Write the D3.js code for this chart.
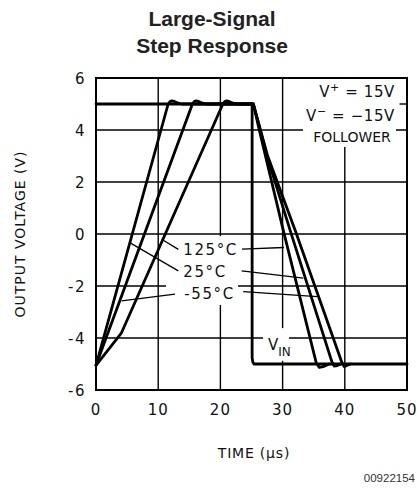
<!DOCTYPE html>
<html><head><meta charset="utf-8">
<script src="https://cdn.jsdelivr.net/npm/d3@7"></script>
<style>body{margin:0;background:#fff}</style>
</head><body>
<svg id="c" width="417" height="489"></svg>
<script>
// ---- data ----
const xTicks = [0, 10, 20, 30, 40, 50];
const yTicks = [-6, -4, -2, 0, 2, 4, 6];
const yTickLabels = ["-6", "-4", "-2", "0", "2", "4", "6"];
const vin = [[0,5],[25.1,5],[25.1,-4.75],[25.2,-4.92],[25.4,-5],[50,-5]];
const curve25 = [[0,-5.05],[11.6,5.0],[11.9,5.09],[12.2,5.12],[12.6,5.1],[13.1,5.04],[13.8,5.0],[25.3,5.0],[27.5,3.0],[31.2,0.15],[37.9,-4.9],[38.3,-5.08],[38.8,-5.06],[39.3,-5.0]];
const curve125 = [[0,-5.05],[4.1,-3.8],[20.4,5.0],[20.7,5.09],[21.0,5.12],[21.4,5.1],[21.9,5.04],[22.6,5.0],[25.3,5.0],[26.2,4.05],[30.1,0.15],[35.4,-4.95],[35.9,-5.13],[36.5,-5.1],[37.5,-5.0]];
const curveM55 = [[0,-5.05],[15.5,5.0],[15.8,5.09],[16.1,5.12],[16.5,5.1],[17.0,5.04],[17.7,5.0],[25.3,5.0],[27.6,3.0],[32.0,0.15],[39.5,-4.92],[39.9,-5.1],[40.4,-5.05],[40.9,-5.0]];
const tempLabels = [
  {text:"125°C", t:14.04, v:-0.79, left:[[13.23,-0.59],[10.56,-0.20]], right:[[23.47,-0.58],[30.23,-0.52]]},
  {text:"25°C",  t:14.04, v:-1.66, left:[[13.23,-1.42],[5.63,-0.36]],  right:[[23.42,-1.42],[33.33,-1.70]]},
  {text:"-55°C", t:14.2,  v:-2.49, left:[[12.70,-2.31],[4.13,-2.57]],  right:[[23.68,-2.22],[35.58,-2.41]]}
];
const maskBoxes = [[11.25,-0.08,22.83,-2.73],[26.85,-3.62,31.03,-4.88],[33.28,5.96,48.23,3.35]];

// ---- layout ----
const svg = d3.select("#c");
const x = d3.scaleLinear().domain([0,50]).range([96,407]);
const y = d3.scaleLinear().domain([-6,6]).range([390,78]);
const F = "'DejaVu Sans', sans-serif";
const ink = "#111";

// grid
const g = svg.append("g");
g.selectAll(".vg").data(xTicks.slice(1,-1)).join("line")
  .attr("x1",d=>x(d)).attr("x2",d=>x(d)).attr("y1",y(6)).attr("y2",y(-6))
  .attr("stroke","#000").attr("stroke-width",1.4);
g.selectAll(".hg").data(yTicks.slice(1,-1)).join("line")
  .attr("x1",x(0)).attr("x2",x(50)).attr("y1",d=>y(d)).attr("y2",d=>y(d))
  .attr("stroke","#000").attr("stroke-width",1.4);
g.append("line").attr("x1",x(48.8)).attr("x2",x(50)).attr("y1",y(5)).attr("y2",y(5))
  .attr("stroke","#000").attr("stroke-width",1.4);

// white masks behind labels
svg.selectAll(".mask").data(maskBoxes).join("rect")
  .attr("x",d=>x(d[0])).attr("y",d=>y(d[1]))
  .attr("width",d=>x(d[2])-x(d[0])).attr("height",d=>y(d[3])-y(d[1]))
  .attr("fill","#fff");

// frame
svg.append("rect").attr("x",x(0)).attr("y",y(6)).attr("width",x(50)-x(0)).attr("height",y(-6)-y(6))
  .attr("fill","none").attr("stroke","#000").attr("stroke-width",2);

// curves
const line = d3.line().x(d=>x(d[0])).y(d=>y(d[1]));
[vin, curve25, curve125, curveM55].forEach(c=>{
  svg.append("path").attr("d",line(c)).attr("fill","none").attr("stroke","#000")
    .attr("stroke-width",2.8).attr("stroke-linejoin","round").attr("stroke-linecap","round");
});

// leaders and temp labels
tempLabels.forEach(l=>{
  [l.left,l.right].forEach(s=>{
    svg.append("path").attr("d",line(s)).attr("stroke","#000").attr("stroke-width",1.3).attr("fill","none");
  });
  svg.append("text").attr("x",x(l.t)).attr("y",y(l.v)).text(l.text)
    .attr("font-family",F).attr("font-size",15).attr("letter-spacing",1.6).attr("fill",ink);
});

// VIN label
const vt = svg.append("text").attr("x",x(27.65)).attr("y",y(-4.46))
  .attr("font-family",F).attr("font-size",15).attr("fill",ink);
vt.append("tspan").text("V");
vt.append("tspan").text("IN").attr("font-size",12).attr("dy",6);

// conditions
const cond = svg.append("g").attr("font-family",F).attr("font-size",15).attr("fill",ink).attr("text-anchor","end");
const t1 = cond.append("text").attr("x",x(48.07)).attr("y",y(5.26)).attr("letter-spacing",0.6);
t1.append("tspan").text("V");
t1.append("tspan").text("+").attr("font-size",11).attr("dy",-6);
t1.append("tspan").text(" = 15V").attr("dy",6);
const t2 = cond.append("text").attr("x",x(48.07)).attr("y",y(4.36)).attr("letter-spacing",0.6);
t2.append("tspan").text("V");
t2.append("tspan").text("−").attr("font-size",11).attr("dy",-6);
t2.append("tspan").text(" = −15V").attr("dy",6);
cond.append("text").attr("x",x(47.4)).attr("y",y(3.55)).text("FOLLOWER").attr("font-size",14);

// tick labels
svg.selectAll(".yl").data(yTicks).join("text")
  .attr("x",86).attr("y",d=>y(d)+5.5).attr("text-anchor","end")
  .attr("font-family",F).attr("font-size",15).attr("letter-spacing",1.5).attr("fill",ink)
  .text((d,i)=>yTickLabels[i]);
svg.selectAll(".xl").data(xTicks).join("text")
  .attr("x",d=>x(d)).attr("y",415).attr("text-anchor","middle")
  .attr("font-family",F).attr("font-size",15).attr("letter-spacing",1).attr("fill",ink)
  .text(d=>d);

// axis titles
svg.append("text").attr("x",254).attr("y",458).attr("text-anchor","middle")
  .attr("font-family",F).attr("font-size",14).attr("letter-spacing",0.8).attr("fill",ink)
  .text("TIME (μs)");
svg.append("text").attr("transform","translate(25,234) rotate(-90)").attr("text-anchor","middle")
  .attr("font-family",F).attr("font-size",14).attr("letter-spacing",1).attr("fill",ink)
  .text("OUTPUT VOLTAGE (V)");

// title
const tt = svg.append("g").attr("font-family","'Liberation Sans', Arial, sans-serif").attr("font-weight","bold")
  .attr("font-size",21).attr("fill","#222").attr("text-anchor","middle");
tt.append("text").attr("x",212).attr("y",26).text("Large-Signal");
tt.append("text").attr("x",212).attr("y",53).text("Step Response");

svg.append("text").attr("x",415).attr("y",482).attr("text-anchor","end")
  .attr("font-family","'Liberation Sans', Arial, sans-serif").attr("font-size",11.5).attr("fill","#333")
  .text("00922154");
</script>
</body></html>
